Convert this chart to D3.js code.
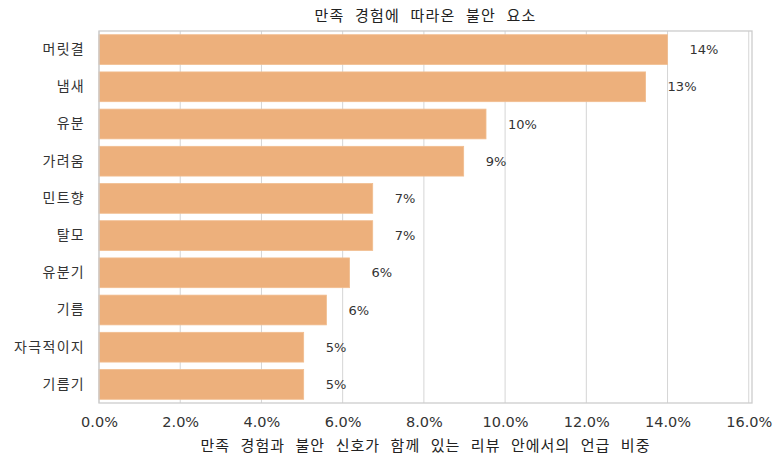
<!DOCTYPE html>
<html>
<head>
<meta charset="utf-8">
<script src="https://cdn.jsdelivr.net/npm/d3@7"></script>
<style>
  body { margin: 0; background: #fff; }
  svg text { font-family: "Noto Sans CJK KR", "Noto Sans", sans-serif; }
</style>
</head>
<body>
<svg id="chart"></svg>
<script>
// categories and values (percent)
var categories = ["머릿결", "냄새", "유분", "가려움", "민트향", "탈모", "유분기", "기름", "자극적이지", "기름기"];
var values = [14.0, 13.46, 9.53, 8.98, 6.74, 6.74, 6.17, 5.6, 5.04, 5.04];
var xTicks = [0, 2, 4, 6, 8, 10, 12, 14, 16];

var width = 783, height = 464;
var margin = { top: 31, right: 31, bottom: 61, left: 99 };
var plotW = width - margin.left - margin.right;
var plotH = height - margin.top - margin.bottom;
var latinFont = "'DejaVu Sans', 'Noto Sans CJK KR', sans-serif";

var svg = d3.select("#chart")
    .attr("width", width)
    .attr("height", height);

var g = svg.append("g")
    .attr("transform", "translate(" + margin.left + "," + margin.top + ")");

var x = d3.scaleLinear()
    .domain([0, 16.08])
    .range([0, plotW]);

var y = d3.scaleBand()
    .domain(categories)
    .range([0, plotH])
    .paddingInner(0.2)
    .paddingOuter(0.1);

// grid lines
g.selectAll("line.grid")
    .data(xTicks)
    .enter().append("line")
    .attr("class", "grid")
    .attr("x1", function (d) { return x(d); })
    .attr("x2", function (d) { return x(d); })
    .attr("y1", 0)
    .attr("y2", plotH)
    .attr("stroke", "#d5d5d5")
    .attr("stroke-width", 1);

// bars
g.selectAll("rect.bar")
    .data(values)
    .enter().append("rect")
    .attr("class", "bar")
    .attr("x", 0)
    .attr("y", function (d, i) { return y(categories[i]); })
    .attr("width", function (d) { return x(d); })
    .attr("height", y.bandwidth())
    .attr("fill", "#edb07c")
    .attr("stroke", "#f1bd8f")
    .attr("stroke-width", 0.8);

// value labels
g.selectAll("text.val")
    .data(values)
    .enter().append("text")
    .attr("class", "val")
    .attr("x", function (d) { return x(d) + 22; })
    .attr("y", function (d, i) { return y(categories[i]) + y.bandwidth() / 2; })
    .attr("dy", "0.35em")
    .attr("font-size", 13)
    .attr("fill", "#333")
    .style("font-family", latinFont)
    .text(function (d) { return Math.round(d) + "%"; });

// frame
g.append("rect")
    .attr("x", 0)
    .attr("y", 0)
    .attr("width", plotW)
    .attr("height", plotH)
    .attr("fill", "none")
    .attr("stroke", "#cccccc")
    .attr("stroke-width", 1.3);

// x axis
var xAxis = d3.axisBottom(x)
    .tickValues(xTicks)
    .tickSize(0)
    .tickPadding(14)
    .tickFormat(function (d) { return d.toFixed(1) + "%"; });

var xg = g.append("g")
    .attr("transform", "translate(0," + plotH + ")")
    .call(xAxis);
xg.select(".domain").remove();
xg.selectAll("text")
    .attr("font-size", 14.5)
    .attr("fill", "#333")
    .style("font-family", latinFont);

// y axis
var yAxis = d3.axisLeft(y)
    .tickSize(0)
    .tickPadding(14);

var yg = g.append("g").call(yAxis);
yg.select(".domain").remove();
yg.selectAll("text")
    .attr("font-size", 14)
    .attr("letter-spacing", 1.3)
    .attr("fill", "#333")
    .style("font-family", "'Noto Sans CJK KR', sans-serif");

// title
svg.append("text")
    .attr("x", margin.left + plotW / 2)
    .attr("y", 21)
    .attr("text-anchor", "middle")
    .attr("font-size", 15)
    .attr("letter-spacing", 1.2)
    .attr("word-spacing", 6)
    .attr("fill", "#222")
    .text("만족 경험에 따라온 불안 요소");

// x axis label
svg.append("text")
    .attr("x", margin.left + plotW / 2)
    .attr("y", 451)
    .attr("text-anchor", "middle")
    .attr("font-size", 15)
    .attr("letter-spacing", 1.05)
    .attr("word-spacing", 6)
    .attr("fill", "#222")
    .text("만족 경험과 불안 신호가 함께 있는 리뷰 안에서의 언급 비중");
</script>
</body>
</html>
